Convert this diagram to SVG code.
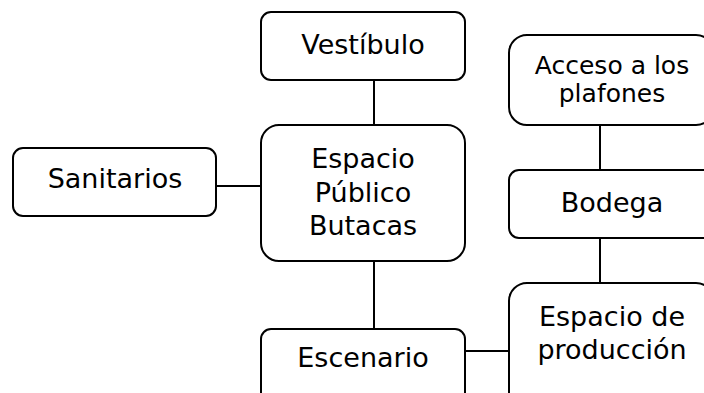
<svg xmlns="http://www.w3.org/2000/svg" width="704" height="393" viewBox="0 0 704 393">
<style>
  .box { fill: #ffffff; stroke: #000000; stroke-width: 2; }
  .lbl { font-family: "DejaVu Sans", Verdana, sans-serif; font-size: 27px; fill: #000000; text-anchor: middle; }
  .sm { font-size: 25px; }
  .con { stroke: #000000; stroke-width: 2; fill: none; }
</style>
<rect width="704" height="393" fill="#ffffff"/>
<g id="connectors">
  <line class="con" x1="374" y1="80" x2="374" y2="125"/>
  <line class="con" x1="216" y1="186" x2="261" y2="186"/>
  <line class="con" x1="374" y1="261" x2="374" y2="329"/>
  <line class="con" x1="600" y1="125" x2="600" y2="170"/>
  <line class="con" x1="600" y1="238" x2="600" y2="283"/>
  <line class="con" x1="465" y1="351" x2="509" y2="351"/>
</g>
<g id="vestibulo">
  <rect class="box" x="261" y="12" width="204" height="68" rx="10"/>
  <text class="lbl" x="363" y="54">Vestíbulo</text>
</g>
<g id="sanitarios">
  <rect class="box" x="13" y="148" width="203" height="68" rx="10"/>
  <text class="lbl" x="115" y="188">Sanitarios</text>
</g>
<g id="espacio-publico">
  <rect class="box" x="261" y="125" width="204" height="136" rx="18"/>
  <text class="lbl" x="363" y="168">Espacio</text>
  <text class="lbl" x="363" y="202">Público</text>
  <text class="lbl" x="363" y="235">Butacas</text>
</g>
<g id="escenario">
  <rect class="box" x="261" y="329" width="204" height="80" rx="10"/>
  <text class="lbl" x="363" y="367">Escenario</text>
</g>
<g id="acceso">
  <rect class="box" x="509" y="35" width="205" height="90" rx="18"/>
  <text class="lbl sm" x="612" y="74">Acceso a los</text>
  <text class="lbl sm" x="612" y="102">plafones</text>
</g>
<g id="bodega">
  <rect class="box" x="509" y="170" width="205" height="68" rx="10"/>
  <text class="lbl" x="612" y="212">Bodega</text>
</g>
<g id="produccion">
  <rect class="box" x="509" y="283" width="205" height="130" rx="18"/>
  <text class="lbl" x="612" y="326">Espacio de</text>
  <text class="lbl" x="612" y="359">producción</text>
</g>
</svg>
